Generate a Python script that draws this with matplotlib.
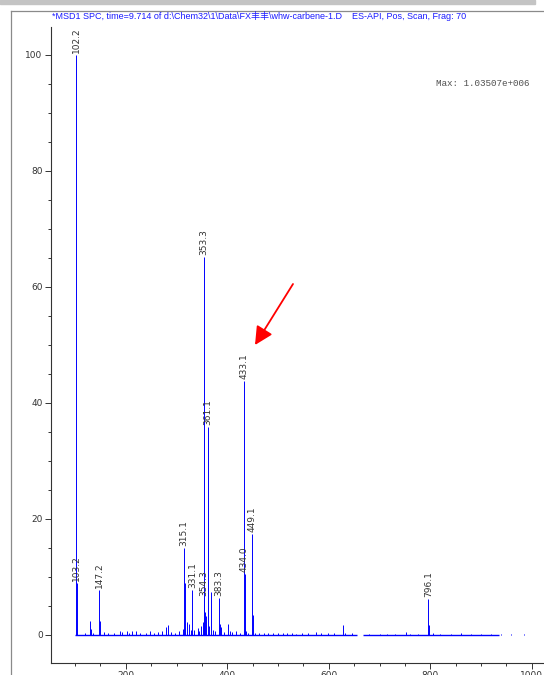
import matplotlib.pyplot as plt
from matplotlib.lines import Line2D
from matplotlib.patches import Rectangle

# labelled peaks (m/z, relative abundance %)
label_mz = [102.2, 103.2, 147.2, 315.1, 331.1, 353.3, 354.3, 361.1, 383.3,
            433.1, 434.0, 449.1, 796.1]
label_int = [100.0, 9.0, 7.8, 15.0, 7.8, 65.2, 6.4, 35.9, 6.4,
             43.8, 10.5, 17.4, 6.2]

# small unlabelled peaks
minor_mz = [120, 128.7, 131, 135, 148.6, 157, 165, 176, 188, 193, 202, 206,
            212, 220, 228, 240, 248, 255, 263, 272, 279, 283, 290, 298, 305,
            312, 316.1, 320, 324, 328, 335, 342, 345, 348, 351.6, 355.2, 358,
            365, 367.4, 372, 376, 385, 387, 393, 401, 405, 410, 417, 425, 436,
            441, 450.1, 455, 462, 472, 480, 490, 500, 510, 518, 527, 535, 548,
            560, 575, 585, 598, 610, 628, 632, 645, 680, 700, 715, 730, 752,
            760, 775, 797, 805, 820, 840, 860, 880, 900, 920, 940, 960, 985]
minor_int = [0.3, 2.4, 1.0, 0.4, 2.4, 0.5, 0.3, 0.4, 0.6, 0.5, 0.6, 0.4,
             0.6, 0.6, 0.3, 0.3, 0.7, 0.4, 0.5, 0.7, 1.4, 1.8, 0.5, 0.4, 0.7,
             1.0, 9.0, 2.3, 1.9, 0.8, 0.8, 1.2, 0.6, 1.5, 2.3, 4.0, 3.2,
             1.6, 7.4, 0.9, 0.6, 1.9, 1.3, 0.5, 1.9, 0.7, 0.5, 0.6, 0.4, 0.6,
             0.4, 3.4, 0.3, 0.3, 0.3, 0.3, 0.3, 0.4, 0.3, 0.3, 0.3, 0.2, 0.3,
             0.3, 0.5, 0.3, 0.3, 0.3, 1.8, 0.3, 0.3, 0.2, 0.2, 0.2, 0.2, 0.5,
             0.2, 0.2, 1.8, 0.3, 0.2, 0.2, 0.3, 0.2, 0.2, 0.2, 0.2, 0.1, 0.1]

# baseline pieces of the scan
baseline_segments = [(100, 655), (668, 935)]

title = ("*MSD1 SPC, time=9.714 of d:\\Chem32\\1\\Data\\FX丰丰\\whw-carbene-1.D"
         "    ES-API, Pos, Scan, Frag: 70")
max_text = "Max: 1.03507e+006"

W, H = 544, 675
fig = plt.figure(figsize=(W / 100, H / 100), dpi=100)

# window chrome of the screenshot
fig.patches.append(Rectangle((0, 1 - 4 / H), 535 / W, 4 / H,
                             transform=fig.transFigure, color="#c4c4c4", zorder=0))
fig.lines.append(Line2D([10.5 / W, 10.5 / W], [0, 1 - 10.5 / H],
                        transform=fig.transFigure, color="#8a8a8a", lw=0.9))
fig.lines.append(Line2D([10.5 / W, 1], [1 - 10.5 / H, 1 - 10.5 / H],
                        transform=fig.transFigure, color="#8a8a8a", lw=0.9))

ax = fig.add_axes([51 / W, 1 - 663 / H, (W - 51) / W, (663 - 27) / H])
ax.set_xlim(52.7, 1024.1)
ax.set_ylim(-4.83, 104.8)

blue = "#0000ff"
for a, b in baseline_segments:
    ax.hlines(0, a, b, color=blue, lw=1.0)
ax.vlines(minor_mz, 0, minor_int, color=blue, lw=0.7)
ax.vlines(label_mz, 0, label_int, color=blue, lw=0.7)

for m, v in zip(label_mz, label_int):
    ax.annotate(f"{m:.1f}", (m, v), xytext=(0, 1.5), textcoords="offset points",
                rotation=90, ha="center", va="bottom", fontsize=6.5,
                color="#333333")

for s in ["top", "right"]:
    ax.spines[s].set_visible(False)
for s in ["left", "bottom"]:
    ax.spines[s].set_color("#333333")
    ax.spines[s].set_linewidth(0.8)

ax.set_yticks([0, 20, 40, 60, 80, 100])
ax.set_yticks(range(0, 105, 5), minor=True)
ax.set_xticks([200, 400, 600, 800, 1000])
ax.set_xticks(range(100, 1001, 50), minor=True)
ax.tick_params(which="major", length=4, width=0.7, color="#333333",
               labelsize=6.5, labelcolor="#333333", pad=2)
ax.tick_params(which="minor", length=2.5, width=0.7, color="#333333")

fig.text(52 / W, 1 - 16 / H, title, fontsize=6.5, color="#1a1aff",
         va="center", ha="left",
         family=["Liberation Sans", "Noto Sans CJK SC", "DejaVu Sans"])
fig.text(530 / W, 1 - 83 / H, max_text, fontsize=6.7, color="#505050",
         va="center", ha="right", family="Liberation Mono")

# red arrow pointing at 433.1
ax.annotate("", xy=(255 / W, 1 - 345 / H), xycoords="figure fraction",
            xytext=(293 / W, 1 - 284 / H), textcoords="figure fraction",
            arrowprops=dict(arrowstyle="-|>,head_length=1.1,head_width=0.55",
                            color="#ff0000", lw=1.3, shrinkA=0, shrinkB=0))

fig.savefig("out.png", dpi=100)
